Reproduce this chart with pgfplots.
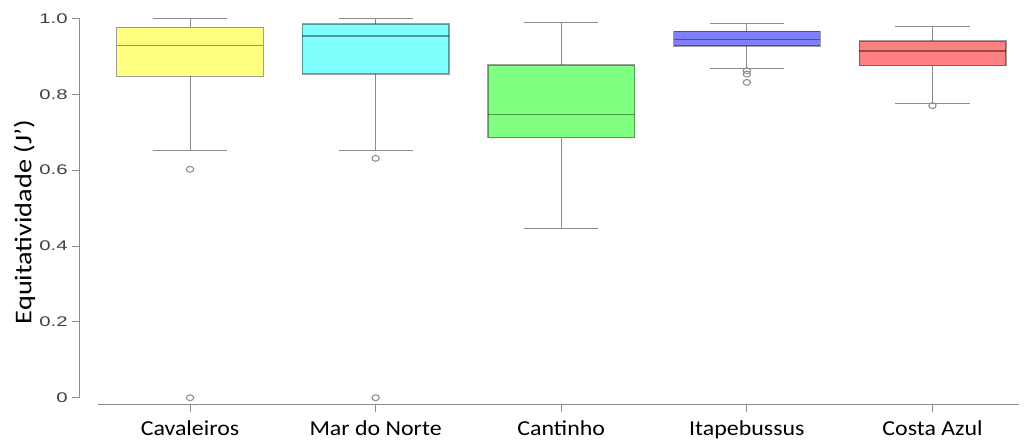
\documentclass[border=0pt]{standalone}
\usepackage{fontspec}
\usepackage{pgfplots}
\pgfplotsset{compat=1.18}
\usepgfplotslibrary{statistics}
\newfontfamily\labfont[FakeStretch=1.12]{Carlito}
\newfontfamily\ylabfont[FakeStretch=1.18]{Carlito}
\newfontfamily\tickfont[FakeStretch=1.45]{Liberation Sans}
\definecolor{cyel}{HTML}{FFFF80}
\definecolor{ccya}{HTML}{80FFFF}
\definecolor{cgre}{HTML}{80FF80}
\definecolor{cblu}{HTML}{8080FF}
\definecolor{cred}{HTML}{FF8080}
\definecolor{axgray}{HTML}{8C8C8C}
\definecolor{txgray}{HTML}{404040}
\begin{document}
\begin{tikzpicture}
\path[use as bounding box] (0,0) rectangle (776.25pt,331.5pt);
\begin{axis}[
  at={(59.25pt,27.75pt)}, anchor=south west,
  scale only axis, width=705pt, height=290pt,
  xmin=-0.598, xmax=4.466, ymin=-0.0192, ymax=1.0,
  clip=false,
  axis line style={draw=none},
  tick align=outside, tick pos=left,
  major tick length=5pt,
  tick style={draw=axgray, line width=0.6pt},
  xtick={0,1,2,3,4},
  xticklabels={Cavaleiros, Mar do Norte, Cantinho, Itapebussus, Costa Azul},
  xticklabel style={font=\labfont\fontsize{16}{18}\selectfont, text=black, yshift=-3pt},
  ytick={0,0.2,0.4,0.6,0.8,1.0},
  yticklabels={0,0.2,0.4,0.6,0.8,1.0},
  yticklabel style={font=\tickfont\fontsize{10.5}{12}\selectfont, text=txgray},
  /pgf/number format/assume math mode=true,
  ylabel={Equitatividade (J’)},
  ylabel style={font=\ylabfont\fontsize{18}{20}\selectfont, at={(axis description cs:-0.058,0.473)}, anchor=center},
  boxplot/draw direction=y,
  boxplot/box extend=0.79,
  boxplot/whisker extend=0.4,
  boxplot/every whisker/.style={draw=axgray, line width=0.75pt},
  boxplot/every median/.style={draw=black, draw opacity=0.4, line width=1.1pt},
  boxplot/every box/.style={draw=black, draw opacity=0.38, line width=1pt},
]
\draw[axgray, line width=0.75pt] (axis cs:-0.598,0) -- (axis cs:-0.598,1);
\draw[axgray, line width=0.75pt] (axis cs:-0.496,-0.0192) -- (axis cs:4.466,-0.0192);
\addplot[fill=cyel, mark=o, mark size=2.2pt, mark options={draw=axgray, line width=0.8pt, xscale=1.25},
  boxplot prepared={draw position=0, lower whisker=0.651, lower quartile=0.847, median=0.928, upper quartile=0.976, upper whisker=1.0}]
  coordinates {(0,0.602) (0,0.0)};
\addplot[fill=ccya, mark=o, mark size=2.2pt, mark options={draw=axgray, line width=0.8pt, xscale=1.25},
  boxplot prepared={draw position=1, lower whisker=0.652, lower quartile=0.853, median=0.954, upper quartile=0.985, upper whisker=1.0}]
  coordinates {(1,0.631) (1,0.0)};
\addplot[fill=cgre, mark=o, mark size=2.2pt, mark options={draw=axgray, line width=0.8pt, xscale=1.25},
  boxplot prepared={draw position=2, lower whisker=0.446, lower quartile=0.685, median=0.747, upper quartile=0.877, upper whisker=0.988}]
  coordinates {};
\addplot[fill=cblu, mark=o, mark size=2.2pt, mark options={draw=axgray, line width=0.8pt, xscale=1.25},
  boxplot prepared={draw position=3, lower whisker=0.867, lower quartile=0.927, median=0.944, upper quartile=0.966, upper whisker=0.987}]
  coordinates {(3,0.862) (3,0.853) (3,0.831)};
\addplot[fill=cred, mark=o, mark size=2.2pt, mark options={draw=axgray, line width=0.8pt, xscale=1.25},
  boxplot prepared={draw position=4, lower whisker=0.775, lower quartile=0.875, median=0.914, upper quartile=0.940, upper whisker=0.978}]
  coordinates {(4,0.770)};
\end{axis}
\end{tikzpicture}
\end{document}
